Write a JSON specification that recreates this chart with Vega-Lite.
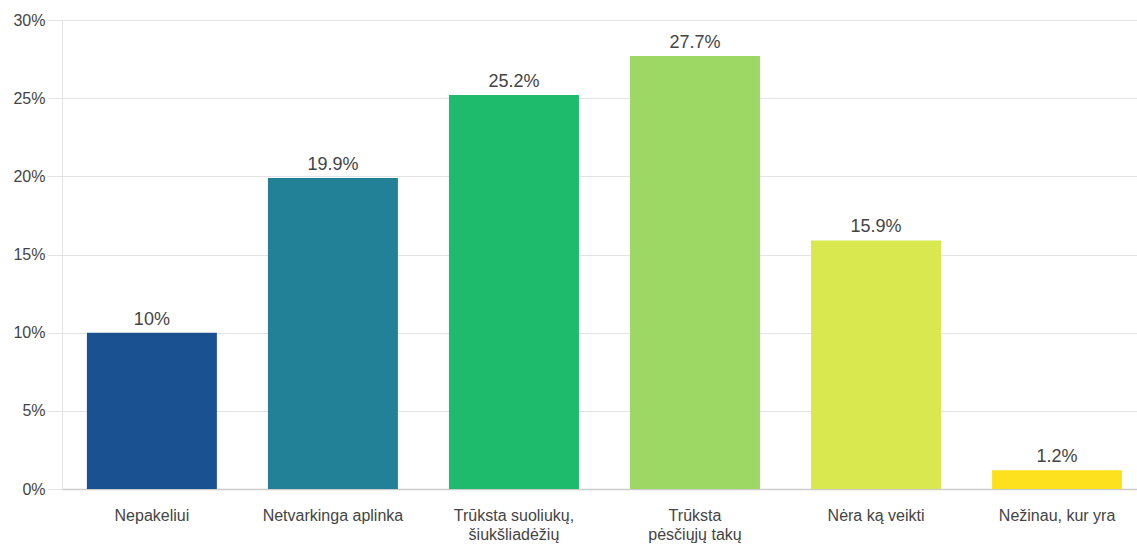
{
  "$schema": "https://vega.github.io/schema/vega-lite/v6.json",
  "autosize": "none",
  "width": 1075,
  "height": 469,
  "padding": {"left": 62, "top": 20, "right": 0, "bottom": 55},
  "background": "white",
  "config": {
    "view": {"stroke": null},
    "font": "Liberation Sans"
  },
  "data": {
    "values": [
      {"kategorija": "Nepakeliui", "dalis": 0.100},
      {"kategorija": "Netvarkinga aplinka", "dalis": 0.199},
      {"kategorija": "Trūksta suoliukų, šiukšliadėžių", "dalis": 0.252},
      {"kategorija": "Trūksta pėsčiųjų takų", "dalis": 0.277},
      {"kategorija": "Nėra ką veikti", "dalis": 0.159},
      {"kategorija": "Nežinau, kur yra", "dalis": 0.012}
    ]
  },
  "encoding": {
    "x": {
      "field": "kategorija",
      "type": "nominal",
      "sort": null,
      "scale": {"paddingInner": 0.282, "paddingOuter": 0.11, "align": 0.625},
      "axis": {
        "title": null,
        "labelAngle": 0,
        "labelFont": "Liberation Sans",
        "labelFontSize": 16,
        "labelColor": "#444444",
        "labelPadding": 18,
        "labelLineHeight": 19,
        "labelLimit": 300,
        "ticks": false,
        "domainColor": "#cccccc",
        "domainWidth": 1.5,
        "grid": false,
        "labelExpr": "datum.value == 'Trūksta suoliukų, šiukšliadėžių' ? ['Trūksta suoliukų,', 'šiukšliadėžių'] : datum.value == 'Trūksta pėsčiųjų takų' ? ['Trūksta', 'pėsčiųjų takų'] : datum.value"
      }
    },
    "y": {
      "field": "dalis",
      "type": "quantitative",
      "scale": {"domain": [0, 0.3], "nice": false},
      "axis": {
        "title": null,
        "values": [0, 0.05, 0.1, 0.15, 0.2, 0.25, 0.3],
        "format": ".0%",
        "labelFont": "Liberation Sans",
        "labelFontSize": 16,
        "labelColor": "#444444",
        "labelPadding": 2,
        "tickSize": 15,
        "tickColor": "#e3e3e3",
        "gridColor": "#e3e3e3",
        "domainColor": "#e3e3e3",
        "domain": true
      }
    }
  },
  "layer": [
    {
      "mark": {"type": "bar"},
      "encoding": {
        "color": {
          "field": "kategorija",
          "type": "nominal",
          "sort": null,
          "legend": null,
          "scale": {
            "domain": ["Nepakeliui", "Netvarkinga aplinka", "Trūksta suoliukų, šiukšliadėžių", "Trūksta pėsčiųjų takų", "Nėra ką veikti", "Nežinau, kur yra"],
            "range": ["#1a5191", "#228196", "#1fbb6c", "#9ed864", "#d8e84e", "#fde11e"]
          }
        }
      }
    },
    {
      "mark": {"type": "text", "baseline": "alphabetic", "dy": -8, "fontSize": 18, "font": "Liberation Sans", "color": "#444444"},
      "encoding": {
        "text": {"field": "dalis", "type": "quantitative", "format": ".1~%"}
      }
    }
  ]
}
